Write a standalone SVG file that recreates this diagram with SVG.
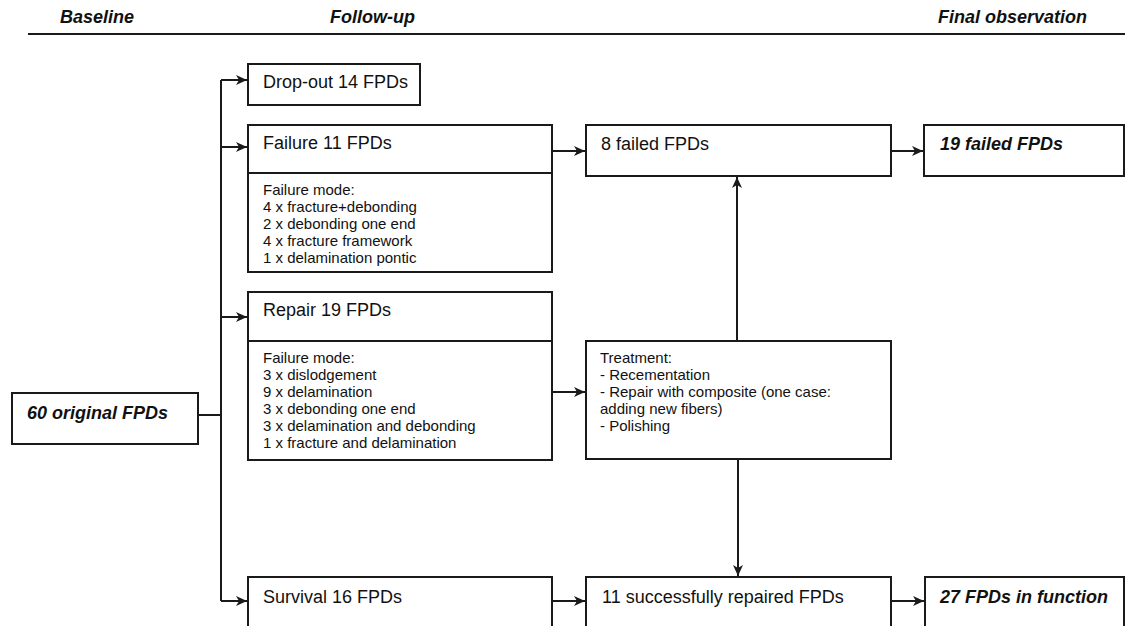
<svg xmlns="http://www.w3.org/2000/svg" width="1125" height="626" viewBox="0 0 1125 626">
<style>
.box{fill:#fff;stroke:#1a1a1a;stroke-width:2}
.ln{fill:none;stroke:#1a1a1a;stroke-width:2}
.t{font-family:"Liberation Sans",Arial,sans-serif;font-size:18px;fill:#111}
.s{font-family:"Liberation Sans",Arial,sans-serif;font-size:15px;fill:#111}
.b{font-family:"Liberation Sans",Arial,sans-serif;font-size:18px;font-weight:bold;font-style:italic;fill:#111}
</style>
<defs>
<marker id="ah" markerUnits="userSpaceOnUse" markerWidth="12" markerHeight="10" refX="11" refY="5" orient="auto">
<path d="M0,0 L11,5 L0,10 L3,5 z" fill="#1a1a1a"/>
</marker>
</defs>
<g id="header">
<text class="b" x="60" y="23">Baseline</text>
<text class="b" x="330" y="23">Follow-up</text>
<text class="b" x="938" y="23">Final observation</text>
<line class="ln" x1="28" y1="34" x2="1125" y2="34"/>
</g>
<g id="connectors">
<line class="ln" x1="198" y1="415" x2="221" y2="415"/>
<line class="ln" x1="221" y1="80" x2="221" y2="601"/>
<line class="ln" x1="221" y1="80" x2="247" y2="80" marker-end="url(#ah)"/>
<line class="ln" x1="221" y1="147" x2="247" y2="147" marker-end="url(#ah)"/>
<line class="ln" x1="221" y1="317" x2="247" y2="317" marker-end="url(#ah)"/>
<line class="ln" x1="221" y1="601" x2="247" y2="601" marker-end="url(#ah)"/>
<line class="ln" x1="552" y1="151" x2="585" y2="151" marker-end="url(#ah)"/>
<line class="ln" x1="891" y1="151" x2="923" y2="151" marker-end="url(#ah)"/>
<line class="ln" x1="552" y1="392" x2="585" y2="392" marker-end="url(#ah)"/>
<line class="ln" x1="737" y1="341" x2="737" y2="177" marker-end="url(#ah)"/>
<line class="ln" x1="738" y1="459" x2="738" y2="576" marker-end="url(#ah)"/>
<line class="ln" x1="552" y1="601" x2="585" y2="601" marker-end="url(#ah)"/>
<line class="ln" x1="891" y1="601" x2="924" y2="601" marker-end="url(#ah)"/>
</g>
<g id="original">
<rect class="box" x="12" y="393" width="186" height="51"/>
<text class="b" x="27" y="419">60 original FPDs</text>
</g>
<g id="dropout">
<rect class="box" x="248" y="64" width="172" height="41"/>
<text class="t" x="263" y="88">Drop-out 14 FPDs</text>
</g>
<g id="failure">
<rect class="box" x="248" y="125" width="304" height="147"/>
<line class="ln" x1="248" y1="173" x2="552" y2="173"/>
<text class="t" x="263" y="149">Failure 11 FPDs</text>
<text class="s" x="263" y="195">Failure mode:</text>
<text class="s" x="263" y="212">4 x fracture+debonding</text>
<text class="s" x="263" y="229">2 x debonding one end</text>
<text class="s" x="263" y="246">4 x fracture framework</text>
<text class="s" x="263" y="263">1 x delamination pontic</text>
</g>
<g id="repair">
<rect class="box" x="248" y="292" width="304" height="168"/>
<line class="ln" x1="248" y1="341" x2="552" y2="341"/>
<text class="t" x="263" y="316">Repair 19 FPDs</text>
<text class="s" x="263" y="363">Failure mode:</text>
<text class="s" x="263" y="380">3 x dislodgement</text>
<text class="s" x="263" y="397">9 x delamination</text>
<text class="s" x="263" y="414">3 x debonding one end</text>
<text class="s" x="263" y="431">3 x delamination and debonding</text>
<text class="s" x="263" y="448">1 x fracture and delamination</text>
</g>
<g id="survival">
<rect class="box" x="248" y="577" width="304" height="70"/>
<text class="t" x="263" y="603">Survival 16 FPDs</text>
</g>
<g id="failed8">
<rect class="box" x="586" y="125" width="305" height="51"/>
<text class="t" x="601" y="150">8 failed FPDs</text>
</g>
<g id="treatment">
<rect class="box" x="586" y="341" width="305" height="118"/>
<text class="s" x="600" y="363">Treatment:</text>
<text class="s" x="600" y="380">- Recementation</text>
<text class="s" x="600" y="397">- Repair with composite (one case:</text>
<text class="s" x="600" y="414">adding new fibers)</text>
<text class="s" x="600" y="431">- Polishing</text>
</g>
<g id="repaired11">
<rect class="box" x="586" y="577" width="305" height="70"/>
<text class="t" x="602" y="603">11 successfully repaired FPDs</text>
</g>
<g id="failed19">
<rect class="box" x="924" y="125" width="200" height="51"/>
<text class="b" x="940" y="150">19 failed FPDs</text>
</g>
<g id="infunction">
<rect class="box" x="925" y="577" width="199" height="70"/>
<text class="b" x="940" y="603">27 FPDs in function</text>
</g>
</svg>
